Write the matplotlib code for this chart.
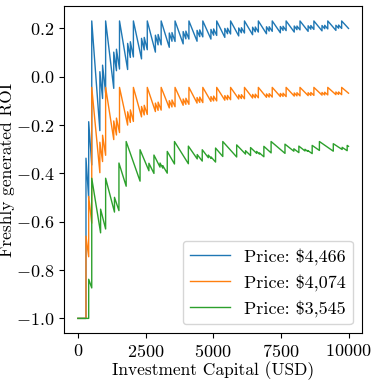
import matplotlib
matplotlib.use("Agg")
import matplotlib.pyplot as plt

plt.rcParams['font.family'] = 'serif'
plt.rcParams['font.serif'] = ['cmr10']
plt.rcParams['mathtext.fontset'] = 'cm'
plt.rcParams['axes.formatter.use_mathtext'] = True
plt.rcParams['font.size'] = 12.5

# vertices (capital, ROI); jumps have two points at one capital
blue_x = [0, 300, 300, 400, 400, 513, 513,
          813, 813, 913, 913,
          1026, 1026, 1326, 1326, 1426, 1426,
          1539, 1539, 1839, 1839, 1939, 1939,
          2052, 2052, 2352, 2352, 2452, 2452,
          2565, 2565, 2865, 2865, 2965, 2965,
          3078, 3078, 3378, 3378, 3478, 3478,
          3591, 3591, 3891, 3891, 3991, 3991,
          4104, 4104, 4404, 4404, 4504, 4504,
          4617, 4617, 4917, 4917, 5017, 5017,
          5130, 5130, 5430, 5430, 5530, 5530,
          5643, 5643, 5943, 5943, 6043, 6043,
          6156, 6156, 6456, 6456, 6556, 6556,
          6669, 6669, 6969, 6969, 7069, 7069,
          7182, 7182, 7482, 7482, 7582, 7582,
          7695, 7695, 7995, 7995, 8095, 8095,
          8208, 8208, 8508, 8508, 8608, 8608,
          8721, 8721, 9021, 9021, 9121, 9121,
          9234, 9234, 9534, 9534, 9634, 9634,
          9747, 9747, 10000]
blue_y = [-1, -1, -0.337, -0.503, -0.186, -0.365, 0.231,
          -0.223, 0.021, -0.090, 0.048,
          -0.067, 0.231, -0.048, 0.102, 0.025, 0.114,
          0.032, 0.231, 0.030, 0.138, 0.080, 0.145,
          0.082, 0.231, 0.074, 0.159, 0.111, 0.163,
          0.112, 0.231, 0.102, 0.172, 0.132, 0.175,
          0.132, 0.231, 0.122, 0.181, 0.147, 0.183,
          0.146, 0.231, 0.136, 0.187, 0.157, 0.189,
          0.156, 0.231, 0.147, 0.192, 0.166, 0.194,
          0.165, 0.231, 0.156, 0.196, 0.172, 0.198,
          0.171, 0.231, 0.163, 0.200, 0.178, 0.201,
          0.177, 0.231, 0.169, 0.202, 0.182, 0.203,
          0.181, 0.231, 0.174, 0.205, 0.186, 0.206,
          0.185, 0.231, 0.178, 0.207, 0.189, 0.207,
          0.188, 0.231, 0.182, 0.208, 0.192, 0.209,
          0.191, 0.231, 0.185, 0.210, 0.195, 0.210,
          0.194, 0.231, 0.188, 0.211, 0.197, 0.212,
          0.196, 0.231, 0.190, 0.212, 0.199, 0.213,
          0.198, 0.231, 0.192, 0.213, 0.201, 0.214,
          0.200, 0.231, 0.200]

orange_x = blue_x
orange_y = [-1, -1, -0.660, -0.745, -0.495, -0.606, -0.044,
            -0.397, -0.271, -0.351, -0.242,
            -0.325, -0.044, -0.260, -0.183, -0.241, -0.171,
            -0.231, -0.044, -0.200, -0.145, -0.189, -0.137,
            -0.185, -0.044, -0.166, -0.123, -0.158, -0.118,
            -0.156, -0.044, -0.144, -0.109, -0.139, -0.105,
            -0.138, -0.044, -0.129, -0.099, -0.125, -0.096,
            -0.124, -0.044, -0.118, -0.092, -0.114, -0.089,
            -0.114, -0.044, -0.109, -0.086, -0.106, -0.084,
            -0.107, -0.044, -0.102, -0.082, -0.100, -0.080,
            -0.100, -0.044, -0.097, -0.078, -0.095, -0.077,
            -0.095, -0.044, -0.092, -0.075, -0.090, -0.074,
            -0.091, -0.044, -0.088, -0.073, -0.087, -0.072,
            -0.087, -0.044, -0.085, -0.071, -0.084, -0.070,
            -0.084, -0.044, -0.082, -0.069, -0.081, -0.068,
            -0.082, -0.044, -0.080, -0.067, -0.079, -0.066,
            -0.079, -0.044, -0.078, -0.066, -0.077, -0.065,
            -0.077, -0.044, -0.076, -0.065, -0.075, -0.064,
            -0.075, -0.044, -0.074, -0.063, -0.073, -0.063,
            -0.074, -0.044, -0.068]

green_x = [0, 400, 400, 513, 513, 840, 840, 1026, 1026, 1353, 1353, 1518, 1518,
           1785, 1785, 2298, 2298, 2625, 2625, 2811, 2811, 3036, 3036,
           3138, 3138, 3303, 3303, 3570, 3570,
           4083, 4083, 4410, 4410, 4596, 4596, 4821, 4821,
           4923, 4923, 5088, 5088, 5355, 5355,
           5868, 5868, 6195, 6195, 6381, 6381, 6606, 6606,
           6708, 6708, 6873, 6873, 7140, 7140,
           7653, 7653, 7980, 7980, 8166, 8166, 8391, 8391,
           8493, 8493, 8658, 8658, 8925, 8925,
           9438, 9438, 9765, 9765, 9951, 9951, 10000]
green_y = [-1, -1, -0.838, -0.874, -0.420, -0.646, -0.548, -0.630, -0.420, -0.560, -0.499, -0.554, -0.357,
           -0.453, -0.268, -0.432, -0.302, -0.389, -0.358, -0.400, -0.324, -0.374, -0.357,
           -0.378, -0.368, -0.399, -0.309, -0.361, -0.268,
           -0.360, -0.287, -0.340, -0.322, -0.349, -0.302, -0.335, -0.324,
           -0.338, -0.332, -0.353, -0.295, -0.330, -0.268,
           -0.332, -0.282, -0.320, -0.306, -0.326, -0.293, -0.317, -0.309,
           -0.320, -0.315, -0.331, -0.288, -0.315, -0.268,
           -0.317, -0.279, -0.308, -0.298, -0.314, -0.287, -0.307, -0.300,
           -0.309, -0.305, -0.318, -0.284, -0.305, -0.268,
           -0.308, -0.277, -0.301, -0.292, -0.306, -0.284, -0.288]

labels = [r"Price: \$4,466", r"Price: \$4,074", r"Price: \$3,545"]

fig = plt.figure(figsize=(3.74, 3.80), dpi=100)
ax = fig.add_axes([0.172, 0.123, 0.796, 0.861])
ax.plot(blue_x, blue_y, color="tab:blue", lw=1.0, label=labels[0])
ax.plot(orange_x, orange_y, color="tab:orange", lw=1.0, label=labels[1])
ax.plot(green_x, green_y, color="tab:green", lw=1.0, label=labels[2])
ax.tick_params(labelsize=13)
ax.set_xlabel("Investment Capital (USD)", labelpad=1)
ax.set_ylabel("Freshly generated ROI", labelpad=1)
ax.legend(loc="lower right", fontsize=13, handlelength=2.2)
fig.savefig("out.png", dpi=100)
